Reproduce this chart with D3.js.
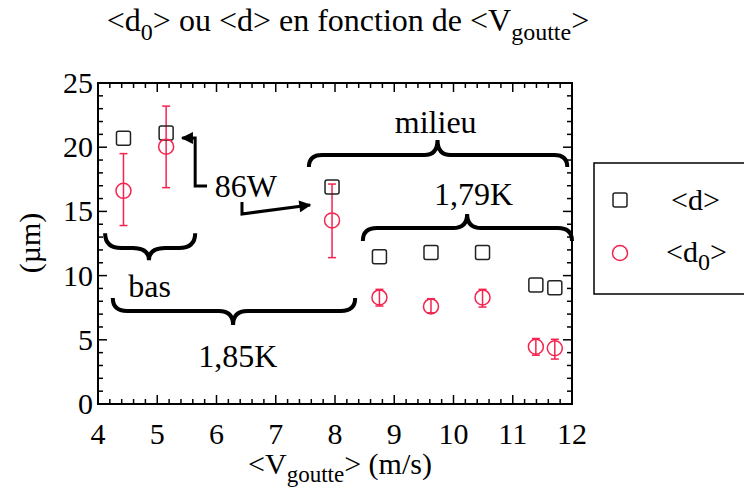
<!DOCTYPE html>
<html>
<head>
<meta charset="utf-8">
<script src="https://cdn.jsdelivr.net/npm/d3@7"></script>
<style>
  body { margin: 0; background: #fff; }
</style>
</head>
<body>
<div class="canvas"></div>
<script>
// data
const vGoutte = [4.43, 5.15, 7.95, 8.75, 9.62, 10.49, 11.39, 11.71];
const dMean = [20.7, 21.1, 16.9, 11.47, 11.8, 11.8, 9.27, 9.06];
const d0Mean = [16.6, 20.04, 14.3, 8.3, 7.6, 8.3, 4.46, 4.34];
const d0Low = [13.9, 16.85, 11.4, 7.63, 7.1, 7.55, 3.8, 3.5];
const d0High = [19.5, 23.2, 17.13, 8.93, 8.2, 8.93, 5.1, 5.04];
const xTicks = [4, 5, 6, 7, 8, 9, 10, 11, 12];
const yTicks = [0, 5, 10, 15, 20, 25];

const red = "#f5234f";
const svg = d3
  .select(".canvas")
  .append("svg")
  .attr("width", 744)
  .attr("height", 502);

const x = d3.scaleLinear().domain([4, 12]).range([98, 572]);
const y = d3.scaleLinear().domain([0, 25]).range([404, 83]);

// axes - ticks pointing inward on all four sides
const minorX = d3.range(4, 12.01, 0.2).filter((v) => Math.abs(v - Math.round(v)) > 0.01);
const minorY = d3.range(0, 25.01, 1).filter((v) => v % 5 !== 0);

const axisG = svg.append("g");
const tickLine = (x1, y1, x2, y2) =>
  axisG.append("line").attr("x1", x1).attr("y1", y1).attr("x2", x2).attr("y2", y2)
    .attr("stroke", "#000").attr("stroke-width", 1.5);

xTicks.forEach((v) => {
  tickLine(x(v), y(0), x(v), y(0) - 9);
  tickLine(x(v), y(25), x(v), y(25) + 9);
});
minorX.forEach((v) => {
  tickLine(x(v), y(0), x(v), y(0) - 5);
  tickLine(x(v), y(25), x(v), y(25) + 5);
});
yTicks.forEach((v) => {
  tickLine(x(4), y(v), x(4) + 9, y(v));
  tickLine(x(12), y(v), x(12) - 9, y(v));
});
minorY.forEach((v) => {
  tickLine(x(4), y(v), x(4) + 5, y(v));
  tickLine(x(12), y(v), x(12) - 5, y(v));
});
axisG.append("rect")
  .attr("x", x(4)).attr("y", y(25))
  .attr("width", x(12) - x(4)).attr("height", y(0) - y(25))
  .attr("fill", "none").attr("stroke", "#000").attr("stroke-width", 2);

axisG.selectAll(".xl").data(xTicks).enter().append("text")
  .attr("x", (d) => x(d)).attr("y", 444)
  .attr("text-anchor", "middle").attr("font-size", 30).text((d) => d);
axisG.selectAll(".yl").data(yTicks).enter().append("text")
  .attr("x", 93).attr("y", (d) => y(d) + 10)
  .attr("text-anchor", "end").attr("font-size", 30).text((d) => d);

// titles
const title = svg.append("text").attr("x", 348).attr("y", 31)
  .attr("text-anchor", "middle").attr("font-size", 32);
title.append("tspan").text("<d");
title.append("tspan").attr("dy", 9).attr("font-size", 24).text("0");
title.append("tspan").attr("dy", -9).text("> ou <d> en fonction de <V");
title.append("tspan").attr("dy", 9).attr("font-size", 24).text("goutte");
title.append("tspan").attr("dy", -9).text(">");

const xLab = svg.append("text").attr("x", 340).attr("y", 474)
  .attr("text-anchor", "middle").attr("font-size", 30);
xLab.append("tspan").text("<V");
xLab.append("tspan").attr("dy", 8).attr("font-size", 23).text("goutte");
xLab.append("tspan").attr("dy", -8).text("> (m/s)");

svg.append("text")
  .attr("transform", "translate(40,243) rotate(-90)")
  .attr("text-anchor", "middle").attr("font-size", 30).text("(µm)");

// annotations (data coordinates)
const braces = [
  { xa: 4.12, xb: 5.64, xm: 4.86, yEnd: 13.3, yBody: 12.15, yTip: 11.2 },
  { xa: 4.25, xb: 8.34, xm: 6.28, yEnd: 8.25, yBody: 7.24, yTip: 6.15 },
  { xa: 7.56, xb: 11.92, xm: 9.73, yEnd: 18.46, yBody: 19.39, yTip: 20.56 },
  { xa: 8.47, xb: 12.0, xm: 10.23, yEnd: 12.7, yBody: 13.7, yTip: 14.8 },
];
const bracePath = (b) => {
  const xa = x(b.xa), xb = x(b.xb), xm = x(b.xm);
  const ye = y(b.yEnd), yb = y(b.yBody), yt = y(b.yTip);
  const r = Math.abs(yb - ye) * 1.1;
  return `M${xa},${ye} Q${xa},${yb} ${xa + r},${yb} L${xm - r},${yb} ` +
    `Q${xm},${yb} ${xm},${yt} Q${xm},${yb} ${xm + r},${yb} L${xb - r},${yb} Q${xb},${yb} ${xb},${ye}`;
};
svg.selectAll(".brace").data(braces).enter().append("path")
  .attr("d", bracePath).attr("fill", "none")
  .attr("stroke", "#000").attr("stroke-width", 4);

const notes = [
  { t: "milieu", x: 9.70, y: 21.13, anchor: "middle" },
  { t: "86W", x: 5.97, y: 16.12, anchor: "start" },
  { t: "1,79K", x: 9.67, y: 15.5, anchor: "start" },
  { t: "bas", x: 4.51, y: 8.31, anchor: "start" },
  { t: "1,85K", x: 5.69, y: 2.9, anchor: "start" },
];
svg.selectAll(".note").data(notes).enter().append("text")
  .attr("x", (d) => x(d.x)).attr("y", (d) => y(d.y))
  .attr("text-anchor", (d) => d.anchor).attr("font-size", 32).text((d) => d.t);

const defs = svg.append("defs");
defs.append("marker").attr("id", "head").attr("viewBox", "0 0 10 10")
  .attr("refX", 9).attr("refY", 5).attr("markerWidth", 5).attr("markerHeight", 4)
  .attr("markerUnits", "strokeWidth").attr("orient", "auto-start-reverse")
  .append("path").attr("d", "M0,0 L10,5 L0,10 Z").attr("fill", "#000");

const arrowLine = d3.line().x((d) => x(d[0])).y((d) => y(d[1]));
svg.append("path")
  .attr("d", arrowLine([[5.42, 20.72], [5.64, 20.72], [5.64, 16.98], [5.84, 16.98]]))
  .attr("fill", "none").attr("stroke", "#000").attr("stroke-width", 3)
  .attr("marker-start", "url(#head)");
svg.append("path")
  .attr("d", arrowLine([[6.43, 15.73], [6.43, 14.8], [7.58, 15.5]]))
  .attr("fill", "none").attr("stroke", "#000").attr("stroke-width", 3)
  .attr("marker-end", "url(#head)");

// error bars
const errG = svg.append("g").attr("stroke", red).attr("stroke-width", 1.5);
vGoutte.forEach((v, i) => {
  errG.append("line").attr("x1", x(v)).attr("x2", x(v))
    .attr("y1", y(d0Low[i])).attr("y2", y(d0High[i]));
  [d0Low[i], d0High[i]].forEach((e) => {
    errG.append("line").attr("x1", x(v) - 4).attr("x2", x(v) + 4)
      .attr("y1", y(e)).attr("y2", y(e));
  });
});

// <d> squares
svg.selectAll(".sq").data(vGoutte).enter().append("rect")
  .attr("x", (d) => x(d) - 7).attr("y", (d, i) => y(dMean[i]) - 7)
  .attr("width", 14).attr("height", 14).attr("rx", 2)
  .attr("fill", "none").attr("stroke", "#222").attr("stroke-width", 1.5);

// <d0> circles
svg.selectAll(".ci").data(vGoutte).enter().append("circle")
  .attr("cx", (d) => x(d)).attr("cy", (d, i) => y(d0Mean[i]))
  .attr("r", 7.5).attr("fill", "none").attr("stroke", red).attr("stroke-width", 1.5);

// legend
const lg = svg.append("g");
lg.append("rect").attr("x", 594).attr("y", 163).attr("width", 170).attr("height", 131)
  .attr("fill", "#fff").attr("stroke", "#000").attr("stroke-width", 1.5);
lg.append("rect").attr("x", 613).attr("y", 193).attr("width", 14).attr("height", 14).attr("rx", 2)
  .attr("fill", "none").attr("stroke", "#222").attr("stroke-width", 1.5);
lg.append("circle").attr("cx", 620).attr("cy", 253).attr("r", 7.5)
  .attr("fill", "none").attr("stroke", red).attr("stroke-width", 1.5);
lg.append("text").attr("x", 671).attr("y", 210).attr("font-size", 30).text("<d>");
const l2 = lg.append("text").attr("x", 666).attr("y", 262).attr("font-size", 30);
l2.append("tspan").text("<d");
l2.append("tspan").attr("dy", 8).attr("font-size", 24).text("0");
l2.append("tspan").attr("dy", -8).text(">");

// same serif face as the original everywhere
svg.selectAll("text").style("font-family", "Liberation Serif").style("fill", "#000");
</script>
</body>
</html>
